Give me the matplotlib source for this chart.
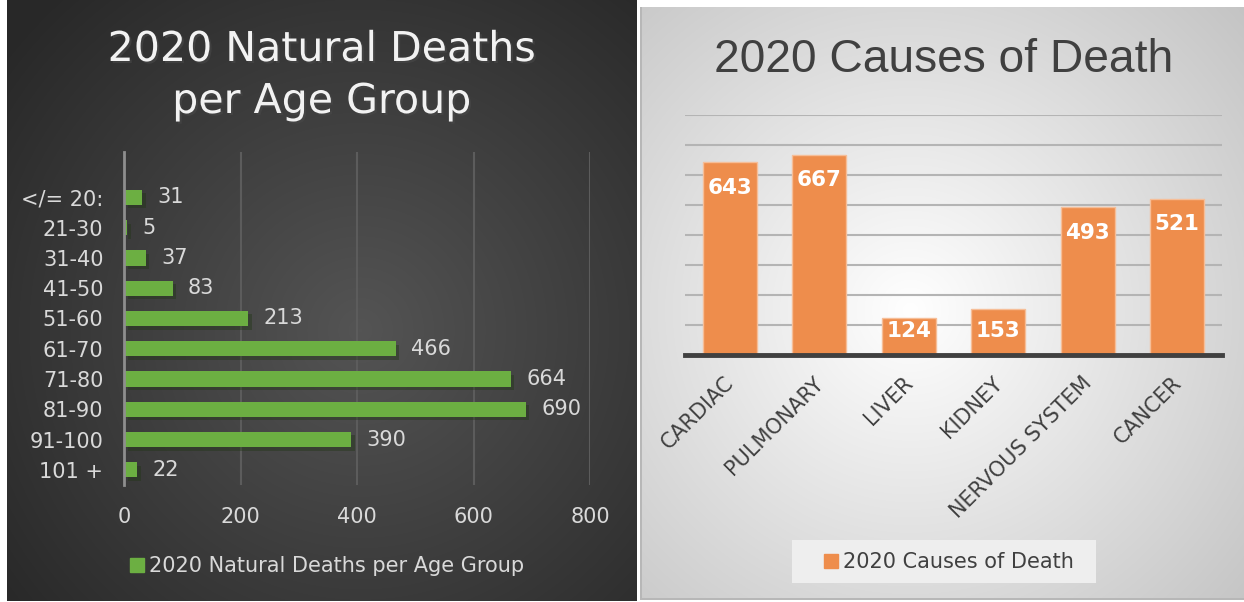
import matplotlib.pyplot as plt
import matplotlib.patheffects as pe
from matplotlib.patches import Rectangle
from matplotlib.transforms import ScaledTranslation
import numpy as np

# left chart data
age_groups = ['</= 20:', '21-30', '31-40', '41-50', '51-60', '61-70',
              '71-80', '81-90', '91-100', '101 +']
age_deaths = [31, 5, 37, 83, 213, 466, 664, 690, 390, 22]

# right chart data
causes = ['CARDIAC', 'PULMONARY', 'LIVER', 'KIDNEY', 'NERVOUS SYSTEM', 'CANCER']
cause_deaths = [643, 667, 124, 153, 493, 521]

W, H = 1244, 602
GREEN = '#6CAF42'
ORANGE = '#EE8D4C'
plt.rcParams['font.family'] = ['DejaVu Sans']

fig = plt.figure(figsize=(W / 100, H / 100), dpi=100)


def px(x0, y0, x1, y1):
    # pixel box (top-left origin) -> figure fraction rect
    return [x0 / W, 1 - y1 / H, (x1 - x0) / W, (y1 - y0) / H]


def fx(x):
    return x / W


def fy(y):
    return 1 - y / H


# background panels
yy, xx = np.mgrid[0:H, 0:W]
img = np.ones((H, W, 3))
r = np.sqrt(((xx - 360) / 420) ** 2 + ((yy - 330) / 420) ** 2)
left = np.clip(0.33 - 0.16 * r, 0.16, 0.33)
mask_l = (xx >= 7) & (xx <= 636) & (yy <= 600)
img[mask_l] = left[mask_l][:, None]
r2 = np.sqrt(((xx - 910) / 430) ** 2 + ((yy - 310) / 430) ** 2)
right = np.clip(1.0 - 0.22 * r2, 0.75, 1.0)
mask_r = (xx >= 642) & (yy >= 7) & (yy <= 597)
img[mask_r] = right[mask_r][:, None]
img[(xx >= 640) & (xx < 642) & (yy >= 7) & (yy <= 597)] = 0.72
img[(yy >= 598) & (yy <= 599) & (xx >= 640)] = 0.72
bg = fig.add_axes([0, 0, 1, 1])
bg.imshow(img, aspect='auto', extent=(0, W, H, 0))
bg.add_patch(Rectangle((792, 540), 304, 43, facecolor='#eeeeee', edgecolor='none'))
bg.set_xlim(0, W)
bg.set_ylim(H, 0)
bg.axis('off')

# ---- left: horizontal bars ----
ax1 = fig.add_axes(px(124.3, 152, 590, 485))
ax1.set_facecolor('none')
ypos = np.arange(len(age_groups))
bars = ax1.barh(ypos, age_deaths, height=0.5, color=GREEN, zorder=3)
for b in bars:
    b.set_path_effects([pe.SimplePatchShadow(offset=(2.5, -2.5), alpha=0.4), pe.Normal()])
ax1.set_ylim(len(age_groups) - 0.5, -1.5)
ax1.set_xlim(0, 800)
ax1.set_xticks([0, 200, 400, 600, 800])
ax1.set_yticks(ypos)
ax1.set_yticklabels(age_groups)
ax1.grid(axis='x', color='#5c5c5c', lw=1.5, zorder=0)
for s in ['top', 'right', 'bottom']:
    ax1.spines[s].set_visible(False)
ax1.spines['left'].set_color('#8e8e8e')
ax1.spines['left'].set_linewidth(2)
ax1.spines['left'].set_zorder(4)
ax1.tick_params(length=0, colors='#d9d9d9', labelsize=15)
ax1.tick_params(axis='y', pad=15)
ax1.tick_params(axis='x', pad=16)
for y, v in zip(ypos, age_deaths):
    ax1.annotate(str(v), (v, y), xytext=(11, 0), textcoords='offset points',
                 va='center', ha='left', color='#d9d9d9', fontsize=15)

shadow = [pe.withSimplePatchShadow(offset=(1.5, -1.5), alpha=0.6)]
fig.text(fx(322), fy(61), '2020 Natural Deaths', ha='center', va='baseline',
         color='#f2f2f2', fontsize=29.6, path_effects=shadow)
fig.text(fx(322), fy(113), 'per Age Group', ha='center', va='baseline',
         color='#f2f2f2', fontsize=29.6, path_effects=shadow)

leg1 = ax1.legend([Rectangle((0, 0), 1, 1, color=GREEN)], ['2020 Natural Deaths per Age Group'],
                  loc='center', bbox_to_anchor=(fx(327), fy(566)), bbox_transform=fig.transFigure,
                  frameon=False, fontsize=15, handlelength=0.67, handleheight=0.67,
                  handletextpad=0.25)
for t in leg1.get_texts():
    t.set_color('#d9d9d9')

# ---- right: vertical bars ----
ax2 = fig.add_axes(px(685, 115, 1222, 355))
ax2.set_facecolor('none')
xpos = np.arange(len(causes))
ax2.bar(xpos, cause_deaths, width=0.6, color=ORANGE, edgecolor='#F6BE98', lw=1, zorder=3)
ax2.set_xlim(-0.5, len(causes) - 0.5)
ax2.set_ylim(0, 800)
ax2.set_yticks(np.arange(100, 801, 100))
ax2.set_yticklabels([])
ax2.grid(axis='y', color='#b4b4b4', lw=1.5, zorder=0)
for s in ['top', 'right', 'left']:
    ax2.spines[s].set_visible(False)
ax2.spines['bottom'].set_color('#404040')
ax2.spines['bottom'].set_linewidth(3.5)
ax2.spines['bottom'].set_zorder(4)
ax2.set_xticks(xpos)
ax2.set_xticklabels(causes, rotation=45, ha='right', va='top', rotation_mode='anchor')
ax2.tick_params(length=0, colors='#404040', labelsize=15)
ax2.tick_params(axis='x', pad=13)
shift = ScaledTranslation(-6 / 100, 0, fig.dpi_scale_trans)
for lab in ax2.get_xticklabels():
    lab.set_transform(lab.get_transform() + shift)
for x, v in zip(xpos, cause_deaths):
    ly = max(v - 85, 80)
    ax2.text(x, ly, str(v), ha='center', va='center', color='white', fontsize=15.5,
             fontweight='bold', zorder=5)

fig.text(fx(944), fy(71.7), '2020 Causes of Death', ha='center', va='baseline',
         color='#404040', fontsize=33.2, family=['Liberation Sans', 'DejaVu Sans'])

leg2 = ax2.legend([Rectangle((0, 0), 1, 1, color=ORANGE)], ['2020 Causes of Death'],
                  loc='center', bbox_to_anchor=(fx(949), fy(562)), bbox_transform=fig.transFigure,
                  frameon=False, fontsize=15, handlelength=0.67, handleheight=0.67,
                  handletextpad=0.25)
for t in leg2.get_texts():
    t.set_color('#404040')

fig.savefig('out.png', dpi=100)
